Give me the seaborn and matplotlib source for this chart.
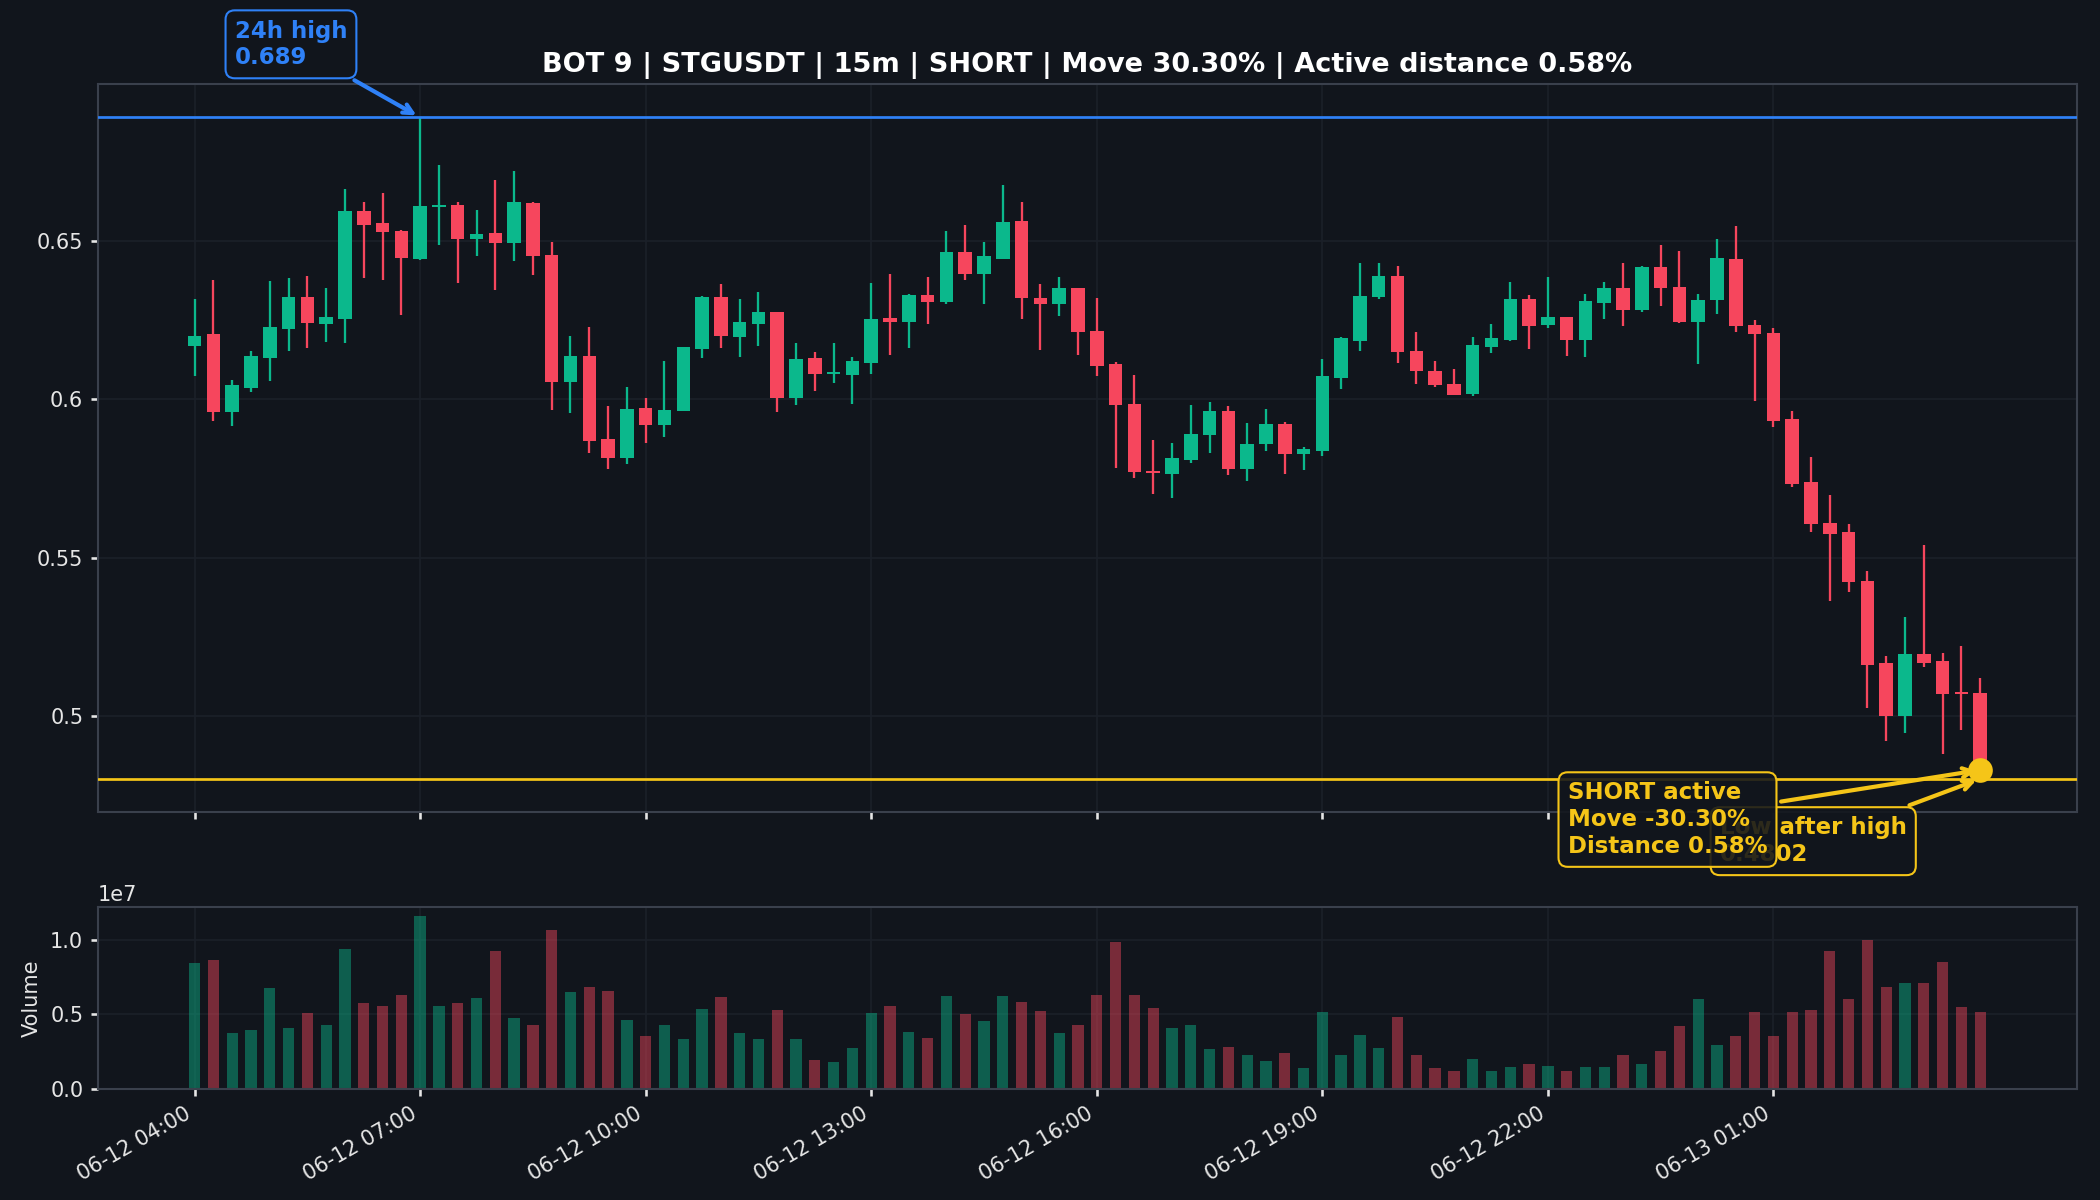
import numpy as np
import pandas as pd
import matplotlib
matplotlib.use("Agg")
import matplotlib.pyplot as plt
import matplotlib.dates as mdates
from matplotlib.colors import to_rgba
from matplotlib.ticker import FuncFormatter, MultipleLocator, FixedLocator
import seaborn as sns

# 15m candles, STGUSDT
times = pd.date_range("2025-06-12 04:00", periods=96, freq="15min")

opens = [0.6170, 0.6206, 0.5961, 0.6037, 0.6131, 0.6222, 0.6322, 0.6238, 0.6254, 0.6594,
         0.6558, 0.6531, 0.6444, 0.6607, 0.6614, 0.6505, 0.6526, 0.6494, 0.6619, 0.6457,
         0.6056, 0.6136, 0.5875, 0.5814, 0.5973, 0.5920, 0.5964, 0.6159, 0.6322, 0.6196,
         0.6238, 0.6275, 0.6005, 0.6130, 0.6079, 0.6078, 0.6115, 0.6256, 0.6244, 0.6328,
         0.6307, 0.6466, 0.6395, 0.6444, 0.6564, 0.6321, 0.6301, 0.6352, 0.6217, 0.6112,
         0.5985, 0.5774, 0.5763, 0.5810, 0.5886, 0.5963, 0.5779, 0.5858, 0.5923, 0.5827,
         0.5836, 0.6068, 0.6185, 0.6323, 0.6391, 0.6154, 0.6091, 0.6050, 0.6018, 0.6166,
         0.6188, 0.6316, 0.6234, 0.6259, 0.6188, 0.6304, 0.6350, 0.6282, 0.6419, 0.6356,
         0.6245, 0.6313, 0.6444, 0.6236, 0.6211, 0.5938, 0.5740, 0.5611, 0.5580, 0.5426,
         0.5168, 0.5001, 0.5196, 0.5173, 0.5076, 0.5074]
highs = [0.6316, 0.6378, 0.6060, 0.6152, 0.6373, 0.6382, 0.6388, 0.6350, 0.6665, 0.6623,
         0.6651, 0.6535, 0.6890, 0.6739, 0.6623, 0.6599, 0.6693, 0.6721, 0.6622, 0.6497,
         0.6199, 0.6228, 0.5979, 0.6039, 0.6004, 0.6121, 0.6165, 0.6325, 0.6363, 0.6316,
         0.6338, 0.6277, 0.6177, 0.6149, 0.6177, 0.6133, 0.6366, 0.6397, 0.6334, 0.6385,
         0.6532, 0.6551, 0.6498, 0.6677, 0.6624, 0.6363, 0.6385, 0.6353, 0.6319, 0.6117,
         0.6077, 0.5872, 0.5863, 0.5982, 0.5992, 0.5978, 0.5926, 0.5970, 0.5929, 0.5850,
         0.6127, 0.6198, 0.6429, 0.6432, 0.6421, 0.6214, 0.6120, 0.6095, 0.6198, 0.6239,
         0.6369, 0.6331, 0.6385, 0.6260, 0.6334, 0.6369, 0.6430, 0.6422, 0.6486, 0.6469,
         0.6333, 0.6506, 0.6548, 0.6249, 0.6225, 0.5964, 0.5818, 0.5699, 0.5607, 0.5459,
         0.5190, 0.5312, 0.5539, 0.5200, 0.5221, 0.5121]
lows = [0.6075, 0.5933, 0.5917, 0.6023, 0.6059, 0.6152, 0.6163, 0.6181, 0.6177, 0.6382,
        0.6378, 0.6266, 0.6439, 0.6486, 0.6366, 0.6452, 0.6344, 0.6436, 0.6392, 0.5968,
        0.5958, 0.5832, 0.5779, 0.5795, 0.5863, 0.5882, 0.5964, 0.6131, 0.6163, 0.6134,
        0.6169, 0.5961, 0.5983, 0.6027, 0.6053, 0.5986, 0.6081, 0.6141, 0.6163, 0.6238,
        0.6302, 0.6378, 0.6301, 0.6442, 0.6254, 0.6156, 0.6263, 0.6141, 0.6075, 0.5783,
        0.5751, 0.5700, 0.5690, 0.5800, 0.5832, 0.5760, 0.5741, 0.5836, 0.5763, 0.5776,
        0.5820, 0.6034, 0.6153, 0.6317, 0.6115, 0.6049, 0.6038, 0.6013, 0.6012, 0.6147,
        0.6185, 0.6159, 0.6226, 0.6137, 0.6134, 0.6254, 0.6231, 0.6276, 0.6295, 0.6241,
        0.6112, 0.6269, 0.6214, 0.5995, 0.5914, 0.5722, 0.5581, 0.5364, 0.5392, 0.5027,
        0.4922, 0.4947, 0.5156, 0.4879, 0.4957, 0.4802]
closes = [0.6201, 0.5961, 0.6045, 0.6136, 0.6228, 0.6322, 0.6241, 0.6259, 0.6594, 0.6552,
          0.6527, 0.6446, 0.6610, 0.6612, 0.6505, 0.6523, 0.6494, 0.6623, 0.6452, 0.6056,
          0.6136, 0.5870, 0.5814, 0.5970, 0.5920, 0.5967, 0.6165, 0.6322, 0.6199, 0.6243,
          0.6275, 0.6005, 0.6127, 0.6081, 0.6086, 0.6121, 0.6253, 0.6245, 0.6328, 0.6307,
          0.6466, 0.6395, 0.6451, 0.6561, 0.6319, 0.6301, 0.6352, 0.6213, 0.6106, 0.5981,
          0.5770, 0.5766, 0.5816, 0.5891, 0.5963, 0.5779, 0.5860, 0.5923, 0.5829, 0.5844,
          0.6073, 0.6193, 0.6327, 0.6391, 0.6150, 0.6090, 0.6046, 0.6015, 0.6171, 0.6193,
          0.6316, 0.6231, 0.6259, 0.6188, 0.6309, 0.6350, 0.6282, 0.6419, 0.6351, 0.6245,
          0.6315, 0.6447, 0.6231, 0.6205, 0.5933, 0.5734, 0.5607, 0.5574, 0.5422, 0.5163,
          0.5001, 0.5196, 0.5169, 0.5069, 0.5069, 0.4830]
volumes = [8.43e6, 8.63e6, 3.71e6, 3.91e6, 6.74e6, 4.11e6, 5.06e6, 4.31e6, 9.37e6, 5.73e6,
           5.53e6, 6.27e6, 11.6e6, 5.53e6, 5.73e6, 6.07e6, 9.24e6, 4.72e6, 4.25e6, 10.65e6,
           6.47e6, 6.81e6, 6.54e6, 4.58e6, 3.51e6, 4.25e6, 3.37e6, 5.33e6, 6.13e6, 3.71e6,
           3.37e6, 5.26e6, 3.37e6, 1.96e6, 1.82e6, 2.76e6, 5.06e6, 5.53e6, 3.78e6, 3.44e6,
           6.20e6, 4.99e6, 4.52e6, 6.20e6, 5.80e6, 5.19e6, 3.71e6, 4.31e6, 6.27e6, 9.84e6,
           6.27e6, 5.39e6, 4.11e6, 4.31e6, 2.70e6, 2.83e6, 2.29e6, 1.89e6, 2.43e6, 1.42e6,
           5.12e6, 2.29e6, 3.64e6, 2.76e6, 4.79e6, 2.29e6, 1.42e6, 1.21e6, 2.02e6, 1.21e6,
           1.48e6, 1.69e6, 1.55e6, 1.21e6, 1.48e6, 1.48e6, 2.29e6, 1.69e6, 2.56e6, 4.18e6,
           6.00e6, 2.97e6, 3.51e6, 5.12e6, 3.51e6, 5.12e6, 5.26e6, 9.24e6, 6.00e6, 9.98e6,
           6.81e6, 7.08e6, 7.08e6, 8.49e6, 5.46e6, 5.12e6]

high_24h = 0.689
low_after_high = 0.4802
title = "BOT 9 | STGUSDT | 15m | SHORT | Move 30.30% | Active distance 0.58%"
short_text = "SHORT active\nMove -30.30%\nDistance 0.58%"

BG = "#11151c"
UP = "#0bb88c"
DOWN = "#f6465d"
BLUE = "#2f81f7"
GOLD = "#f5c518"
GRID = "#1b2029"
TXT = "#e6e6e6"

sns.set_theme(style="dark", rc={
    "figure.facecolor": BG, "axes.facecolor": BG, "savefig.facecolor": BG,
    "axes.edgecolor": "#3a404c", "axes.linewidth": 1.0,
    "axes.labelcolor": TXT, "text.color": TXT,
    "xtick.color": TXT, "ytick.color": TXT,
    "xtick.bottom": True, "ytick.left": True,
    "xtick.major.size": 3.5, "ytick.major.size": 3.5,
    "xtick.labelsize": 10, "ytick.labelsize": 10, "axes.labelsize": 10,
    "font.size": 10, "axes.grid": True, "grid.color": GRID, "grid.linewidth": 0.8,
    "patch.edgecolor": "none",
})

x = mdates.date2num(times.to_pydatetime())
step = 15 / 1440
o = np.array(opens); h = np.array(highs); l = np.array(lows); c = np.array(closes)
up = c >= o
colors = np.where(up, UP, DOWN)
body_bottom = np.minimum(o, c)
body_height = np.maximum(np.abs(c - o), 0.0006)

fig = plt.figure(figsize=(14, 8), dpi=150)
gs = fig.add_gridspec(2, 1, height_ratios=[4, 1], left=0.0466, right=0.989,
                      top=0.9297, bottom=0.0926, hspace=0.209)
ax = fig.add_subplot(gs[0])
axv = fig.add_subplot(gs[1], sharex=ax)

# candles
ax.vlines(x, l, h, colors=colors, linewidth=1.1, zorder=2)
ax.bar(x, body_height, bottom=body_bottom, width=step * 0.72, color=colors,
       linewidth=0, zorder=3)

ax.axhline(high_24h, color=BLUE, lw=1.3, zorder=4)
ax.axhline(low_after_high, color=GOLD, lw=1.3, zorder=4)
sns.scatterplot(x=[x[-1]], y=[closes[-1]], ax=ax, s=140, color=GOLD,
                edgecolor=GOLD, linewidth=0, zorder=9, legend=False)

i_high = int(np.argmax(h))
ax.annotate(f"24h high\n{high_24h:g}", xy=(x[i_high], high_24h), xytext=(-89, 47),
            textcoords="offset points", ha="left", va="top", color=BLUE,
            fontsize=11, fontweight="bold", zorder=8, annotation_clip=False,
            bbox=dict(boxstyle="round,pad=0.4", fc=BG, ec=BLUE, lw=1),
            arrowprops=dict(arrowstyle="->", color=BLUE, lw=2))
ax.annotate(f"Low after high\n{low_after_high}", xy=(x[-1], low_after_high),
            xytext=(-125, -18), textcoords="offset points", ha="left", va="top",
            color=GOLD, fontsize=11, fontweight="bold", zorder=7, annotation_clip=False,
            bbox=dict(boxstyle="round,pad=0.4", fc=to_rgba(BG, 0.88), ec=GOLD, lw=1),
            arrowprops=dict(arrowstyle="->", color=GOLD, lw=2))
ax.annotate(short_text, xy=(x[-1], closes[-1]), xytext=(-198, -5.5),
            textcoords="offset points", ha="left", va="top",
            color=GOLD, fontsize=11, fontweight="bold", zorder=8, annotation_clip=False,
            bbox=dict(boxstyle="round,pad=0.4", fc=to_rgba(BG, 0.88), ec=GOLD, lw=1),
            arrowprops=dict(arrowstyle="->", color=GOLD, lw=2))

ax.set_title(title, fontsize=13, fontweight="bold", color="white")
ax.yaxis.set_major_locator(MultipleLocator(0.05))
ax.yaxis.set_major_formatter(FuncFormatter(lambda v, _: f"{v:g}"))
ax.tick_params(labelbottom=False)

# volume
vol_colors = [to_rgba(UP if u else DOWN, 0.45) for u in up]
axv.bar(x, volumes, width=step * 0.6, color=vol_colors, linewidth=0, zorder=2)
axv.set_ylabel("Volume")
axv.yaxis.set_major_locator(MultipleLocator(5e6))
axv.xaxis.set_major_locator(FixedLocator(x[::12]))
axv.xaxis.set_major_formatter(mdates.DateFormatter("%m-%d %H:%M"))
plt.setp(axv.get_xticklabels(), rotation=30, ha="right")
axv.yaxis.get_offset_text().set_color(TXT)

fig.savefig("out.png", dpi=150)
